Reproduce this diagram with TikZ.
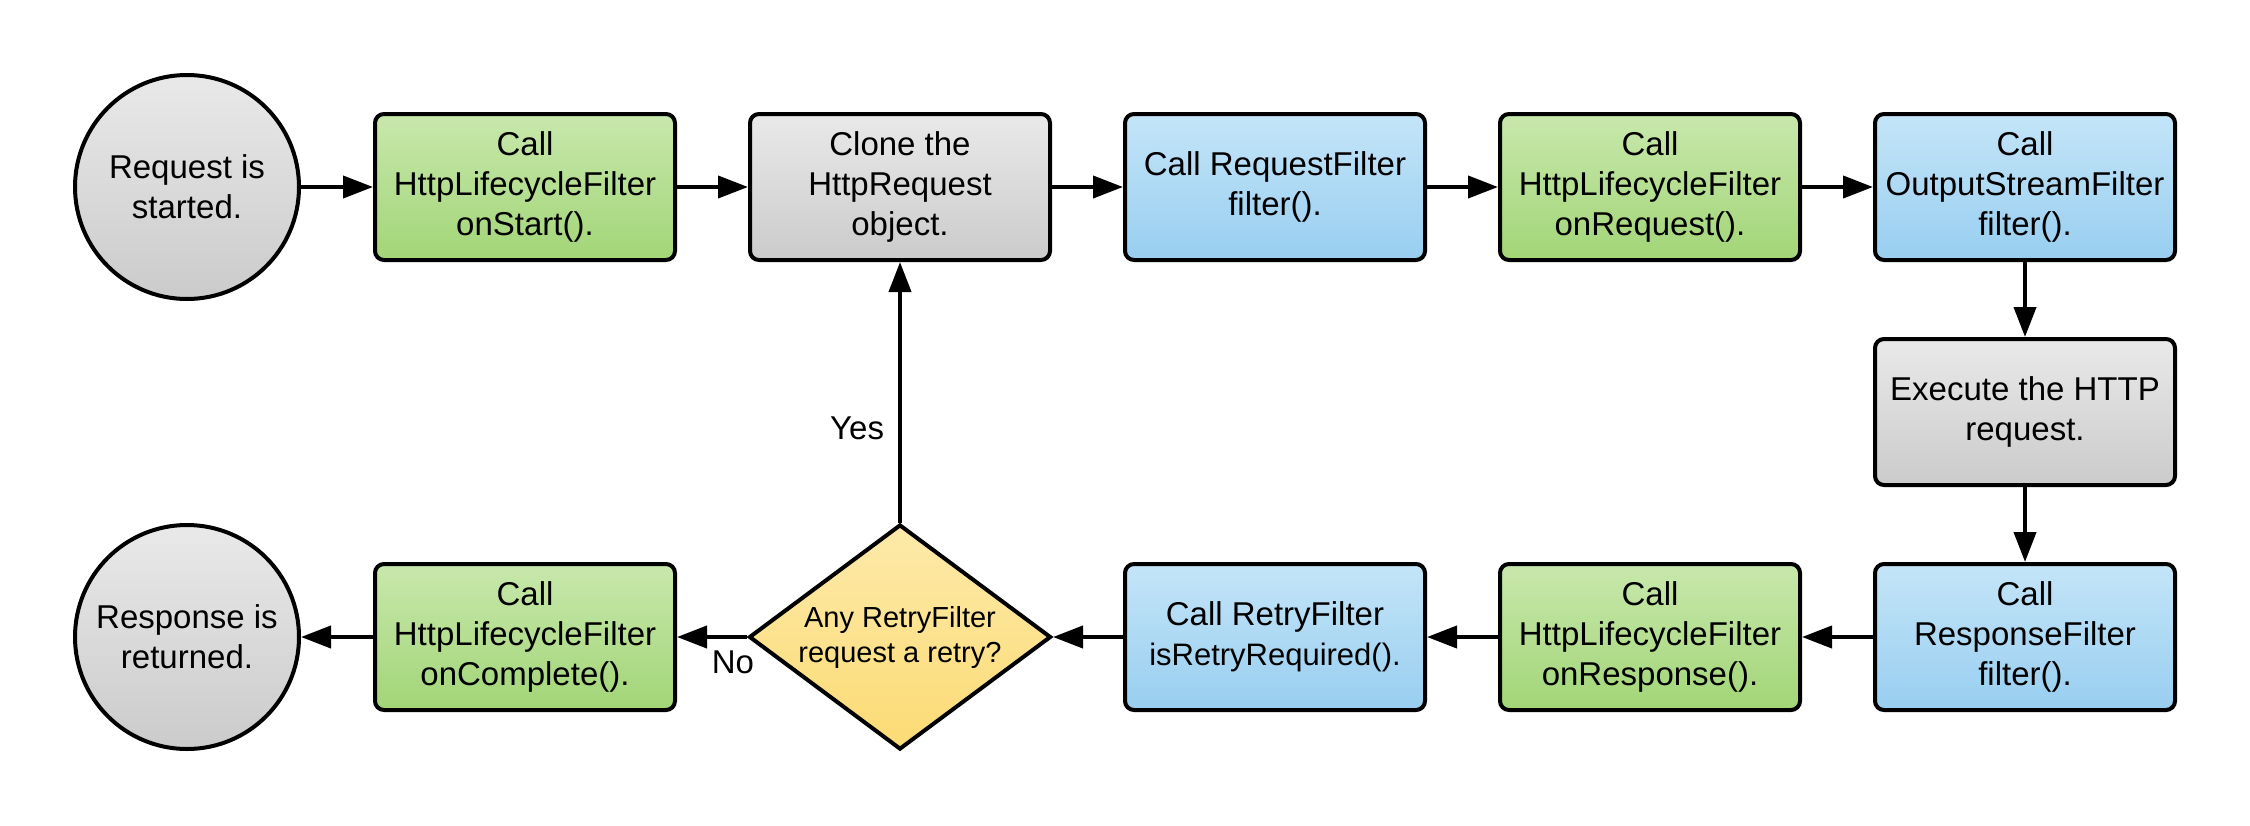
\documentclass[tikz,border=0pt]{standalone}
\usepackage{fontspec}
\setmainfont{Liberation Sans}
\usetikzlibrary{arrows.meta,shapes.geometric}
\definecolor{gtop}{HTML}{C8E8AC}
\definecolor{gbot}{HTML}{A2D577}
\definecolor{btop}{HTML}{C4E5F8}
\definecolor{bbot}{HTML}{98CEF0}
\definecolor{ytop}{HTML}{FDEAAA}
\definecolor{ybot}{HTML}{FCDB74}
\definecolor{ktop}{HTML}{E9E9E9}
\definecolor{kbot}{HTML}{CBCBCB}
\begin{document}
\begin{tikzpicture}[x=1pt,y=-1pt,
  base/.style={draw=black, line width=4pt, align=center, inner sep=0pt,
    font=\fontsize{33}{40}\selectfont},
  box/.style={base, rectangle, rounded corners=9pt, minimum width=300pt, minimum height=146pt},
  greenbox/.style={box, top color=gtop, bottom color=gbot},
  bluebox/.style={box, top color=btop, bottom color=bbot},
  graybox/.style={box, top color=ktop, bottom color=kbot},
  terminal/.style={base, circle, minimum size=224pt, top color=ktop, bottom color=kbot},
  decision/.style={base, diamond, shape aspect=1.34, minimum width=302pt, minimum height=225pt,
    top color=ytop, bottom color=ybot, font=\fontsize{29}{35}\selectfont},
  conn/.style={line width=4pt, -{Triangle[length=30pt,width=22pt]}},
  lbl/.style={font=\fontsize{33}{40}\selectfont, inner sep=0pt}
]
\useasboundingbox (0,0) rectangle (2250,825);

\node[terminal] (c1) at (187,187) {Request is\\started.};
\node[greenbox] (b1) at (525,187) {Call\\HttpLifecycleFilter\\onStart().};
\node[graybox]  (b2) at (900,187) {Clone the\\HttpRequest\\object.};
\node[bluebox]  (b3) at (1275,187) {Call RequestFilter\\filter().};
\node[greenbox] (b4) at (1650,187) {Call\\HttpLifecycleFilter\\onRequest().};
\node[bluebox]  (b5) at (2025,187) {Call\\OutputStreamFilter\\filter().};
\node[graybox]  (ex) at (2025,412) {Execute the HTTP\\request.};
\node[bluebox]  (b6) at (2025,637) {Call\\ResponseFilter\\filter().};
\node[greenbox] (b7) at (1650,637) {Call\\HttpLifecycleFilter\\onResponse().};
\node[bluebox]  (b8) at (1275,637) {Call RetryFilter\\{\fontsize{31}{40}\selectfont isRetryRequired().}};
\node[decision] (d)  at (900,637) {Any RetryFilter\\request a retry?};
\node[greenbox] (b9) at (525,637) {Call\\HttpLifecycleFilter\\onComplete().};
\node[terminal] (c2) at (187,637) {Response is\\returned.};

\draw[conn] (c1) -- (b1);
\draw[conn] (b1) -- (b2);
\draw[conn] (b2) -- (b3);
\draw[conn] (b3) -- (b4);
\draw[conn] (b4) -- (b5);
\draw[conn] (b5) -- (ex);
\draw[conn] (ex) -- (b6);
\draw[conn] (b6) -- (b7);
\draw[conn] (b7) -- (b8);
\draw[conn] (b8) -- (d.east);
\draw[conn] (d.west) -- node[lbl, pos=0.2, yshift=-25pt] {No} (b9);
\draw[conn] (b9) -- (c2);
\draw[conn] (d.north) -- node[lbl, pos=0.36, left=14pt] {Yes} (b2);
\end{tikzpicture}
\end{document}
